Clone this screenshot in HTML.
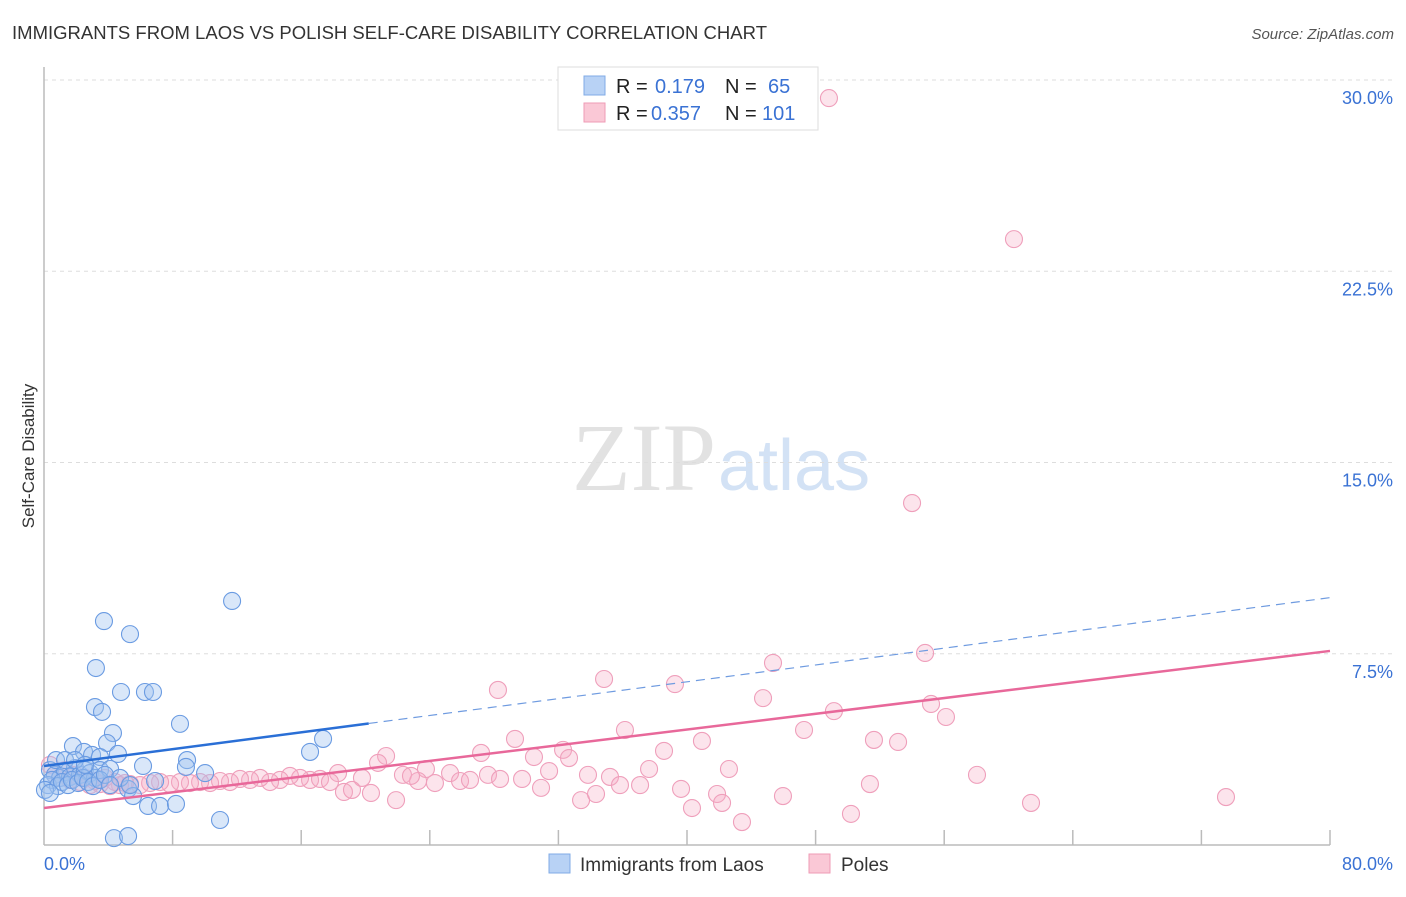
<!DOCTYPE html>
<html><head><meta charset="utf-8"><style>
body{margin:0;background:#fff;font-family:"Liberation Sans",sans-serif}
#c{position:relative;width:1406px;height:892px}
</style></head><body>
<div id="c">
<svg id="s" width="1406" height="892" xmlns="http://www.w3.org/2000/svg">
<text x="12" y="39" font-size="18.5" fill="#333" textLength="755">IMMIGRANTS FROM LAOS VS POLISH SELF-CARE DISABILITY CORRELATION CHART</text>
<text x="1394" y="39" font-size="15" fill="#555" font-style="italic" text-anchor="end">Source: ZipAtlas.com</text>
<text x="716" y="490" font-size="96" fill="#e2e2e2" text-anchor="end" font-family="Liberation Serif,serif">ZIP</text>
<text x="718" y="490" font-size="72" fill="#d3e2f5">atlas</text>
<text transform="translate(34,456) rotate(-90)" font-size="17" fill="#333" text-anchor="middle">Self-Care Disability</text>
<g id="grid"></g><g id="pts"></g><g id="trend"></g>
<g>
<rect x="558" y="67" width="260" height="63" fill="#fff" stroke="#ddd"/>
<rect x="584" y="76" width="21" height="19" fill="#b8d2f5" stroke="#80abe6"/>
<rect x="584" y="103" width="21" height="19" fill="#fac8d6" stroke="#ef9bb6"/>
<text x="616" y="93" font-size="20" fill="#222">R =</text>
<text x="655" y="93" font-size="20" fill="#3a72d4">0.179</text>
<text x="725" y="93" font-size="20" fill="#222">N =</text>
<text x="768" y="93" font-size="20" fill="#3a72d4">65</text>
<text x="616" y="120" font-size="20" fill="#222">R =</text>
<text x="651" y="120" font-size="20" fill="#3a72d4">0.357</text>
<text x="725" y="120" font-size="20" fill="#222">N =</text>
<text x="762" y="120" font-size="20" fill="#3a72d4">101</text>
</g>
<g>
<rect x="549" y="854" width="21" height="19" fill="#b8d2f5" stroke="#80abe6"/>
<text x="580" y="871" font-size="19" fill="#333">Immigrants from Laos</text>
<rect x="809" y="854" width="21" height="19" fill="#fac8d6" stroke="#ef9bb6"/>
<text x="841" y="871" font-size="19" fill="#333">Poles</text>
</g>
</svg></div>
<script>
const yTicks=[7.5,15,22.5,30];
const yTickLabels=["7.5%","15.0%","22.5%","30.0%"];
const xTickLabels=["0.0%","80.0%"];
const laosX=[3.73,5.35,11.70,3.23,4.79,6.28,6.78,3.17,3.61,8.46,4.29,3.92,1.80,4.60,2.49,2.99,3.48,16.55,17.36,8.90,8.83,6.16,10.02,6.91,5.23,5.54,6.47,7.22,8.21,10.95,4.35,5.23,0.37,0.68,1.0,1.31,1.62,1.93,2.24,2.55,2.86,3.17,3.48,4.11,0.25,0.5,0.87,1.12,1.49,1.74,2.12,2.43,2.74,3.05,3.48,3.79,0.06,0.37,0.75,1.31,1.93,2.55,4.73,5.35,4.11];
const laosY=[8.78,8.27,9.57,6.94,6.0,6.0,6.0,5.41,5.22,4.75,4.39,4.0,3.88,3.57,3.65,3.53,3.45,3.65,4.16,3.33,3.06,3.10,2.82,2.51,2.20,1.92,1.53,1.53,1.61,0.98,0.27,0.35,2.94,2.75,2.63,2.86,2.67,3.02,2.75,2.94,2.82,2.63,2.94,2.98,2.35,2.55,2.31,2.47,2.35,2.55,2.43,2.63,2.47,2.31,2.55,2.75,2.16,2.04,3.33,3.33,3.33,3.14,2.63,2.35,2.35];
const polesX=[48.83,60.34,54.0,54.81,45.35,28.24,34.84,39.25,44.73,49.14,55.18,56.11,36.14,47.28,51.63,53.13,40.93,29.30,38.57,32.29,27.19,21.28,20.78,30.48,32.66,37.64,42.61,58.04,31.42,33.84,35.21,23.76,22.33,18.29,19.78,25.26,27.62,29.74,25.88,24.32,23.27,22.83,18.66,19.16,20.34,21.90,30.92,33.41,34.34,39.63,41.87,45.97,42.18,40.31,43.42,50.20,51.38,61.40,73.53,37.08,16.55,15.93,15.30,14.68,14.06,13.44,12.82,12.19,11.57,10.95,10.33,9.71,9.08,8.46,7.84,7.22,6.60,5.97,5.35,4.73,4.11,3.48,2.86,2.24,1.62,1.0,0.37,0.68,1.31,1.93,2.55,3.17,3.79,4.42,5.04,17.17,17.79,28.37,26.50,35.83];
const polesY=[29.29,23.76,13.41,7.53,7.14,6.08,6.51,6.31,5.76,5.25,5.53,5.02,4.51,4.51,4.12,4.04,4.08,4.16,3.69,3.73,3.61,3.49,3.22,3.45,3.41,2.98,2.98,2.75,2.90,2.75,2.67,2.98,2.75,2.82,2.63,2.82,2.75,2.59,2.51,2.43,2.51,2.71,2.08,2.16,2.04,1.76,2.24,1.76,2.0,2.20,2.0,1.92,1.65,1.45,0.90,1.22,2.39,1.65,1.88,2.35,2.55,2.63,2.71,2.55,2.47,2.63,2.55,2.59,2.47,2.51,2.43,2.47,2.43,2.47,2.39,2.47,2.43,2.35,2.39,2.35,2.31,2.39,2.35,2.47,2.55,2.63,3.14,2.75,2.94,2.75,2.63,2.51,2.63,2.47,2.43,2.59,2.47,2.59,2.55,2.35];
const laosTrend=[3.10,9.70]; // y at x=0, x=80
const polesTrend=[1.45,7.61];
const laosSolidEnd=20.2;

const NS="http://www.w3.org/2000/svg";
const X=v=>44+v*16.075, Y=v=>845-v*25.5;
function mk(tag,attrs,parent){const e=document.createElementNS(NS,tag);for(const k in attrs)e.setAttribute(k,attrs[k]);parent.appendChild(e);return e;}
const grid=document.getElementById('grid'),pts=document.getElementById('pts'),tr=document.getElementById('trend');
yTicks.forEach((t,i)=>{
  const l=mk('line',{x1:44,x2:1393,y1:Y(t),y2:Y(t),stroke:'#ddd','stroke-dasharray':'4,4'},grid);
  
  
  const tx=mk('text',{x:1393,y:Y(t)+24,'font-size':18,fill:'#3a72d4','text-anchor':'end'},grid);
  tx.textContent=yTickLabels[i];
  
  
});
const ax=mk('line',{x1:44,x2:44,y1:67,y2:845,stroke:'#bbb','stroke-width':1.5},grid);


const bx=mk('line',{x1:44,x2:1330,y1:845,y2:845,stroke:'#bbb','stroke-width':1.5},grid);


for(let t=8;t<=80;t+=8){
  const tk=mk('line',{x1:X(t),x2:X(t),y1:830,y2:845,stroke:'#bbb','stroke-width':1.5},grid);
  
  
}
[[0,'start',44],[80,'end',1393]].forEach((d,i)=>{
  const tx=mk('text',{x:d[2],y:870,'font-size':18,fill:'#3a72d4','text-anchor':d[1]},grid);
  tx.textContent=xTickLabels[i];
  
  
});
polesX.forEach((x,i)=>{
  const c=mk('circle',{cx:X(x),cy:Y(polesY[i]),r:8.5,fill:'rgba(246,170,196,0.32)',stroke:'#ef9fbb','stroke-width':1.1},pts);
  
  
});
laosX.forEach((x,i)=>{
  const c=mk('circle',{cx:X(x),cy:Y(laosY[i]),r:8.5,fill:'rgba(160,195,240,0.4)',stroke:'#6a9be2','stroke-width':1.1},pts);
  
  
});
const ly=x=>laosTrend[0]+(laosTrend[1]-laosTrend[0])*x/80;
const py=x=>polesTrend[0]+(polesTrend[1]-polesTrend[0])*x/80;
const l1=mk('line',{x1:X(0),y1:Y(ly(0)),x2:X(laosSolidEnd),y2:Y(ly(laosSolidEnd)),stroke:'#2a6fd6','stroke-width':2.5},tr);


const l2=mk('line',{x1:X(laosSolidEnd),y1:Y(ly(laosSolidEnd)),x2:X(80),y2:Y(ly(80)),stroke:'#6f9be0','stroke-width':1.2,'stroke-dasharray':'9,6'},tr);


const l3=mk('line',{x1:X(0),y1:Y(py(0)),x2:X(80),y2:Y(py(80)),stroke:'#e8689a','stroke-width':2.5},tr);


</script>
</body></html>
